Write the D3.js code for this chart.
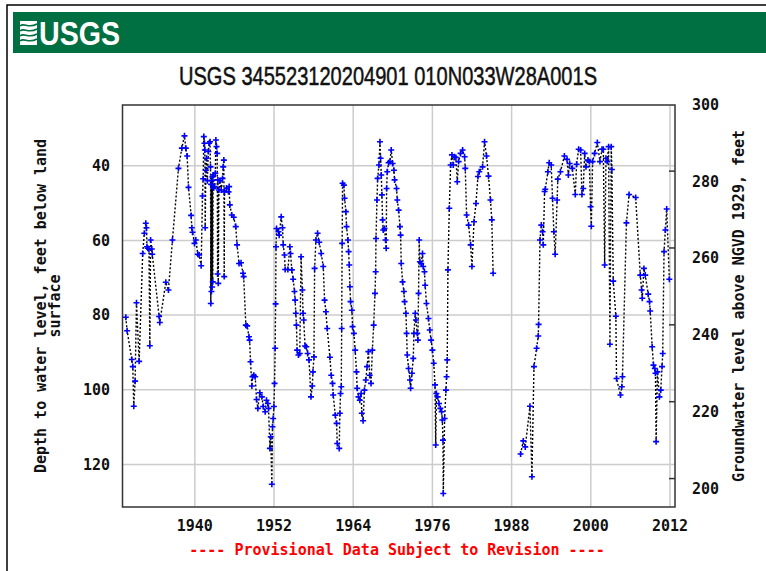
<!DOCTYPE html>
<html>
<head>
<meta charset="utf-8">
<script src="https://cdn.jsdelivr.net/npm/d3@7"></script>
<style>
  body { margin: 0; background: #fff; }
  svg { display: block; }
  .mono { font-family: "DejaVu Sans Mono", monospace; font-weight: bold; font-size: 15px; fill: #111; }
</style>
</head>
<body>
<svg width="766" height="571"></svg>
<script>
// ticks and labels
const xTicks = [1940, 1952, 1964, 1976, 1988, 2000, 2012];
const depthTicks = [40, 60, 80, 100, 120];
const elevTicks = [280, 260, 240, 220, 200];
const elevLabels = [300, 280, 260, 240, 220, 200];

const titleText = "USGS 345523120204901 010N033W28A001S";
const leftTitle = ["Depth to water level, feet below land", "surface"];
const rightTitle = "Groundwater level above NGVD 1929, feet";
const noteText = "---- Provisional Data Subject to Revision ----";

// series A: 1929 - 1985 (year, depth below land surface)
const yearsA = [
  1929.54, 1929.74, 1930.45, 1930.6, 1930.75, 1930.95, 1931.16, 1931.56, 1932.1, 1932.35,
  1932.57, 1932.67, 1932.75, 1932.87, 1933.05, 1933.18, 1933.3, 1933.48, 1933.55, 1934.59,
  1934.69, 1935.6, 1936.0, 1936.61, 1937.52, 1938.03, 1938.43, 1938.63, 1938.84, 1939.04,
  1939.44, 1939.54, 1939.65, 1939.95, 1940.15, 1940.45, 1940.66, 1940.96, 1941.16, 1941.26,
  1941.36, 1941.46, 1941.52, 1941.57, 1941.67, 1941.77, 1941.9, 1942.05, 1942.17, 1942.3,
  1942.38, 1942.42, 1942.47, 1942.52, 1942.57, 1942.62, 1942.67, 1942.72, 1942.78, 1942.85,
  1943.0, 1943.1, 1943.19, 1943.29, 1943.39, 1943.45, 1943.5, 1943.55, 1943.65, 1943.8,
  1944.0, 1944.2, 1944.3, 1944.4, 1944.45, 1944.5, 1944.8, 1945.1, 1945.2, 1945.3,
  1945.6, 1945.9, 1946.2, 1946.4, 1946.7, 1947.0, 1947.3, 1947.4, 1947.73, 1947.93,
  1948.2, 1948.3, 1948.44, 1948.64, 1948.74, 1948.94, 1949.15, 1949.35, 1949.55, 1949.85,
  1950.16, 1950.36, 1950.66, 1950.86, 1951.07, 1951.17, 1951.37, 1951.5, 1951.67, 1951.77,
  1951.87, 1951.98, 1952.08, 1952.18, 1952.24, 1952.3, 1952.38, 1952.68, 1952.78, 1953.09,
  1953.29, 1953.39, 1953.59, 1953.69, 1954.1, 1954.4, 1954.5, 1954.7, 1954.9, 1955.1,
  1955.2, 1955.3, 1955.4, 1955.5, 1955.7, 1955.9, 1956.1, 1956.3, 1956.4, 1956.5,
  1956.7, 1956.9, 1957.1, 1957.3, 1957.6, 1957.8, 1957.9, 1958.05, 1958.15, 1958.35,
  1958.6, 1958.85, 1959.15, 1959.46, 1959.66, 1959.86, 1960.06, 1960.47, 1960.67, 1960.87,
  1960.97, 1961.28, 1961.48, 1961.58, 1961.88, 1961.98, 1962.08, 1962.19, 1962.25, 1962.32,
  1962.39, 1962.59, 1962.69, 1962.89, 1962.99, 1963.2, 1963.3, 1963.4, 1963.5, 1963.6,
  1963.8, 1963.9, 1964.1, 1964.3, 1964.5, 1964.6, 1964.8, 1965.0, 1965.2, 1965.3,
  1965.5, 1965.7, 1965.9, 1966.1, 1966.3, 1966.5, 1966.7, 1966.9, 1967.1, 1967.3,
  1967.4, 1967.45, 1967.6, 1967.7, 1967.9, 1968.05, 1968.15, 1968.25, 1968.35, 1968.45,
  1968.55, 1968.75, 1968.9, 1969.0, 1969.06, 1969.16, 1969.36, 1969.56, 1969.76, 1969.97,
  1970.17, 1970.27, 1970.57, 1970.68, 1970.88, 1971.08, 1971.18, 1971.28, 1971.48, 1971.68,
  1971.78, 1971.99, 1972.09, 1972.19, 1972.39, 1972.6, 1972.7, 1972.9, 1973.1, 1973.2,
  1973.4, 1973.5, 1973.7, 1973.8, 1973.9, 1974.0, 1974.1, 1974.3, 1974.5, 1974.6,
  1974.8, 1974.9, 1975.1, 1975.4, 1975.6, 1975.8, 1976.0, 1976.2, 1976.4, 1976.5,
  1976.6, 1976.8, 1977.0, 1977.2, 1977.4, 1977.5, 1977.6, 1977.65, 1977.85, 1978.05,
  1978.15, 1978.25, 1978.35, 1978.56, 1978.76, 1978.96, 1979.16, 1979.36, 1979.56, 1979.77,
  1979.97, 1980.27, 1980.58, 1980.88, 1980.98, 1981.18, 1981.49, 1981.79, 1981.99, 1982.3,
  1982.6, 1982.9, 1983.1, 1983.6, 1983.9, 1984.2, 1984.5, 1984.8, 1985.0, 1985.2
];
const depthsA = [
  80.6, 84.2, 91.9, 93.8, 104.4, 97.7, 76.7, 92.4, 63.5, 58.1,
  55.4, 56.6, 61.7, 62.1, 62.3, 88.2, 59.9, 62.3, 63.7, 80.4,
  82.0, 71.2, 73.3, 59.9, 40.7, 35.3, 32.0, 35.3, 37.4, 45.8,
  53.3, 56.6, 57.8, 60.8, 59.9, 63.7, 63.9, 66.8, 48.1, 43.5,
  32.2, 34.0, 35.8, 56.6, 41.2, 38.0, 44.0, 36.2, 34.0, 33.6,
  40.3, 76.9, 45.0, 73.7, 44.0, 72.5, 43.0, 71.1, 42.5, 46.0,
  45.6, 42.0, 33.1, 34.9, 36.7, 69.0, 43.8, 71.5, 46.5, 44.0,
  46.5, 43.4, 40.3, 38.5, 69.7, 47.0, 46.0, 47.0, 45.6, 50.5,
  53.2, 53.8, 56.3, 61.2, 66.2, 66.0, 68.8, 69.7, 82.7, 82.9,
  85.8, 86.7, 92.5, 99.0, 96.5, 96.1, 96.5, 102.6, 105.0, 100.8,
  101.9, 104.5, 105.9, 102.8, 103.7, 105.0, 115.7, 112.6, 125.3, 109.9,
  107.7, 104.5, 98.3, 88.9, 77.0, 61.7, 56.8, 57.7, 58.6, 53.7,
  56.6, 61.2, 63.9, 67.8, 67.8, 61.7, 63.5, 67.9, 70.4, 73.7,
  76.0, 79.5, 82.7, 89.4, 90.7, 90.3, 64.4, 73.3, 79.5, 81.3,
  88.3, 88.5, 90.3, 92.0, 101.9, 99.0, 95.2, 91.2, 67.5, 59.9,
  58.1, 60.5, 63.5, 67.0, 76.0, 79.1, 83.6, 91.3, 96.1, 98.3,
  101.4, 106.8, 109.0, 114.4, 115.7, 106.3, 101.0, 99.2, 83.6, 60.8,
  44.7, 45.2, 48.7, 52.3, 56.3, 59.9, 63.0, 66.6, 72.4, 76.4,
  78.7, 83.1, 84.9, 89.4, 95.2, 99.6, 101.9, 102.8, 101.0, 106.3,
  108.3, 100.1, 97.4, 93.8, 89.8, 96.1, 98.3, 89.4, 82.7, 74.2,
  68.4, 59.5, 49.2, 43.4, 39.8, 33.6, 38.0, 42.5, 47.8, 54.5,
  57.2, 56.8, 59.9, 62.1, 46.1, 41.6, 39.2, 38.9, 35.8, 39.4,
  41.2, 43.8, 46.1, 49.2, 51.9, 56.3, 58.6, 66.2, 71.1, 73.7,
  76.4, 79.5, 84.9, 90.7, 94.3, 97.4, 99.6, 95.6, 91.6, 84.9,
  79.5, 81.3, 84.9, 86.7, 74.2, 59.9, 65.7, 66.2, 63.5, 67.0,
  68.4, 72.0, 76.9, 80.9, 84.0, 86.7, 89.4, 92.9, 98.7, 114.8,
  101.0, 101.9, 103.7, 105.0, 105.9, 108.1, 113.5, 127.8, 107.7, 100.1,
  96.5, 92.0, 67.9, 51.4, 39.8, 37.1, 39.8, 37.6, 37.8, 44.3,
  38.9, 36.7, 35.8, 37.6, 40.7, 53.2, 55.9, 61.2, 67.0, 55.0,
  50.1, 42.9, 41.6, 40.3, 33.6, 37.4, 42.8, 49.2, 54.5, 68.8
];

// series B: 1989 - 2012
const yearsB = [
  1989.36, 1989.77, 1990.07, 1990.78, 1991.08, 1991.39, 1991.79, 1992.04, 1992.09, 1992.3,
  1992.5, 1992.7, 1992.8, 1993.0, 1993.1, 1993.5, 1993.7, 1994.0, 1994.2, 1994.4,
  1994.6, 1994.9, 1995.0, 1995.4, 1996.0, 1996.4, 1996.6, 1996.8, 1997.2, 1997.65,
  1997.85, 1998.16, 1998.46, 1998.66, 1998.86, 1999.07, 1999.27, 1999.57, 1999.77, 1999.97,
  2000.08, 2000.28, 2000.58, 2000.99, 2001.39, 2001.7, 2001.9, 2002.1, 2002.3, 2002.5,
  2002.7, 2002.9, 2003.1, 2003.2, 2003.4, 2003.8, 2003.9, 2004.5, 2004.7, 2004.8,
  2005.4, 2005.8, 2006.8, 2007.5, 2007.7, 2007.8, 2008.05, 2008.25, 2008.7, 2008.9,
  2009.0, 2009.3, 2009.5, 2009.7, 2009.8, 2009.9, 2010.1, 2010.4, 2010.6, 2010.8,
  2010.9, 2011.1, 2011.3, 2011.5, 2011.9
];
const depthsB = [
  117.2, 113.7, 115.3, 104.4, 123.3, 93.8, 88.9, 85.6, 82.5, 59.9,
  55.9, 57.7, 61.2, 46.9, 46.3, 41.6, 39.2, 39.8, 48.7, 57.7,
  63.7, 49.2, 43.6, 41.6, 37.4, 38.3, 42.5, 39.4, 40.7, 47.7,
  39.6, 35.6, 35.8, 47.7, 46.1, 36.7, 40.3, 38.5, 38.9, 51.0,
  56.2, 38.9, 36.7, 33.8, 38.9, 35.6, 35.6, 66.6, 38.0, 38.9,
  34.9, 87.8, 34.9, 41.0, 70.9, 80.3, 97.0, 101.4, 99.2, 96.5,
  55.3, 47.7, 48.5, 69.3, 73.3, 75.5, 67.5, 69.3, 74.4, 76.4,
  78.9, 88.5, 93.4, 94.3, 95.6, 113.9, 95.2, 101.9, 100.1, 93.8,
  90.3, 63.0, 57.2, 51.6, 70.4
];

const svg = d3.select("svg");

const area = { left: 122.5, right: 675, top: 105, bottom: 507 };

// scales
const scX = d3.scaleLinear().domain([1929.04, 2012.76]).range([area.left, area.right]);
const scY = d3.scaleLinear().domain([23.74, 131.4]).range([area.top, area.bottom]);
const scY2 = d3.scaleLinear().domain([192.6, 297.2]).range([area.bottom, area.top]);

drawHeader();
drawGrid();
drawSeries(d3.zip(yearsA, depthsA));
drawSeries(d3.zip(yearsB, depthsB));
drawAxes();

function drawHeader() {
    // outer frame
    svg.append("path")
        .attr("d", "M7,571V5H766")
        .attr("fill", "none")
        .attr("stroke", "#000")
        .attr("stroke-width", 1.5);

    svg.append("rect")
        .attr("x", 13).attr("y", 12)
        .attr("width", 753).attr("height", 41)
        .attr("fill", "#006f41");

    // wave icon
    const icon = svg.append("g").attr("transform", "translate(20,21)");
    icon.append("rect").attr("width", 17).attr("height", 24).attr("fill", "#fff");
    [3, 8, 13, 18].forEach(y0 => {
        icon.append("path")
            .attr("d", `M0,${y0 + 2} C4,${y0 - 2} 8,${y0 + 5} 17,${y0}`)
            .attr("fill", "none")
            .attr("stroke", "#006f41")
            .attr("stroke-width", 1.6);
    });

    svg.append("text")
        .attr("x", 39).attr("y", 45)
        .attr("textLength", 81)
        .attr("lengthAdjust", "spacingAndGlyphs")
        .style("font-family", '"Liberation Sans Narrow", "Arial Narrow", "Liberation Sans", sans-serif')
        .style("font-weight", "bold")
        .style("font-size", "34px")
        .attr("fill", "#fff")
        .text("USGS");

    svg.append("text")
        .attr("x", 388).attr("y", 85)
        .attr("text-anchor", "middle")
        .attr("textLength", 418)
        .attr("lengthAdjust", "spacingAndGlyphs")
        .style("font-family", '"Liberation Sans Narrow", "Arial Narrow", "Liberation Sans", sans-serif')
        .style("font-size", "26px")
        .attr("fill", "#111")
        .attr("stroke", "#111")
        .attr("stroke-width", 0.5)
        .text(titleText);
}

function drawGrid() {
    const g = svg.append("g")
        .attr("stroke", "#cccccc")
        .attr("stroke-width", 1.5);

    g.selectAll(".vg")
        .data(xTicks)
        .enter()
        .append("line")
        .attr("x1", d => scX(d)).attr("x2", d => scX(d))
        .attr("y1", area.top).attr("y2", area.bottom);

    g.selectAll(".hg")
        .data(depthTicks)
        .enter()
        .append("line")
        .attr("x1", area.left).attr("x2", area.right)
        .attr("y1", d => scY(d)).attr("y2", d => scY(d));
}

function drawSeries(points) {
    const line = d3.line()
        .x(d => scX(d[0]))
        .y(d => scY(d[1]));

    svg.append("path")
        .datum(points)
        .attr("d", line)
        .attr("fill", "none")
        .attr("stroke", "#000")
        .attr("stroke-width", 1.4)
        .attr("stroke-dasharray", "2,2");

    // blue plus markers
    svg.append("g")
        .selectAll("path")
        .data(points)
        .enter()
        .append("path")
        .attr("d", "M-3,0H3M0,-3V3")
        .attr("transform", d => `translate(${scX(d[0])},${scY(d[1])})`)
        .attr("stroke", "#0000ff")
        .attr("stroke-width", 1.6);
}

function drawAxes() {
    // plot frame
    svg.append("rect")
        .attr("x", area.left).attr("y", area.top)
        .attr("width", area.right - area.left)
        .attr("height", area.bottom - area.top)
        .attr("fill", "none")
        .attr("stroke", "#333")
        .attr("stroke-width", 1.5);

    // right axis ticks (inward)
    svg.selectAll(".rt")
        .data(elevTicks)
        .enter()
        .append("line")
        .attr("x1", area.right - 6).attr("x2", area.right)
        .attr("y1", d => scY2(d)).attr("y2", d => scY2(d))
        .attr("stroke", "#333")
        .attr("stroke-width", 1.5);

    svg.selectAll(".xl")
        .data(xTicks)
        .enter()
        .append("text")
        .attr("class", "mono")
        .attr("x", d => scX(d))
        .attr("y", 531)
        .attr("text-anchor", "middle")
        .text(d => d);

    svg.selectAll(".yl")
        .data(depthTicks)
        .enter()
        .append("text")
        .attr("class", "mono")
        .attr("x", 110)
        .attr("y", d => scY(d))
        .attr("dy", "0.36em")
        .attr("text-anchor", "end")
        .text(d => d);

    svg.selectAll(".y2l")
        .data(elevLabels)
        .enter()
        .append("text")
        .attr("class", "mono")
        .attr("x", 692)
        .attr("y", d => scY2(d) + 10)
        .attr("dy", "0.36em")
        .text(d => d);

    // two-line left title
    const lt = svg.append("g").attr("transform", "translate(0,306) rotate(-90)");
    lt.append("text")
        .attr("class", "mono")
        .attr("y", 46)
        .attr("text-anchor", "middle")
        .text(leftTitle[0]);
    lt.append("text")
        .attr("class", "mono")
        .attr("y", 60)
        .attr("text-anchor", "middle")
        .text(leftTitle[1]);

    svg.append("text")
        .attr("class", "mono")
        .attr("transform", "translate(744,306) rotate(-90)")
        .attr("text-anchor", "middle")
        .text(rightTitle);

    svg.append("text")
        .attr("class", "mono")
        .attr("x", 397).attr("y", 555)
        .attr("text-anchor", "middle")
        .style("fill", "#ff0000")
        .text(noteText);
}
</script>
</body>
</html>
